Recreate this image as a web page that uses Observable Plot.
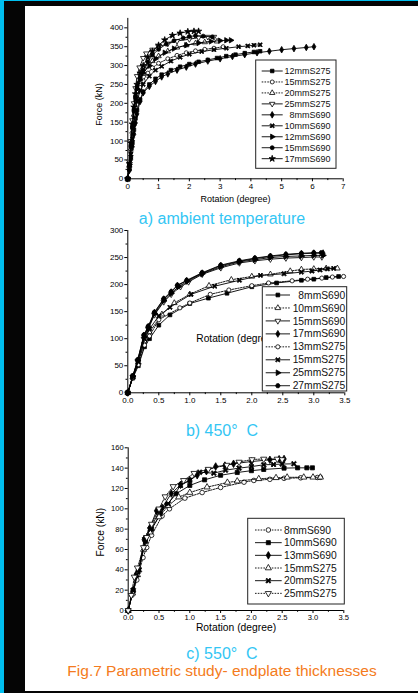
<!DOCTYPE html>
<html><head><meta charset="utf-8">
<script src="https://cdn.jsdelivr.net/npm/d3@7"></script>
<script src="https://cdn.jsdelivr.net/npm/@observablehq/plot@0.6"></script>
<style>
html,body{margin:0;padding:0;background:#fff;}
#page{position:relative;width:418px;height:693px;overflow:hidden;background:#fff;font-family:"Liberation Sans",Arial,sans-serif;}
.bar{position:absolute;}
.chart{position:absolute;left:0;}
.title{position:absolute;left:22px;width:400px;text-align:center;line-height:1;white-space:pre;}
</style></head>
<body><div id="page">
<div class="bar" style="left:0;top:0;width:418px;height:1.3px;background:#00bfef"></div>
<div class="bar" style="left:4px;top:1.3px;width:414px;height:4.7px;background:#050505"></div>
<div class="bar" style="left:0;top:0;width:4px;height:693px;background:#00bfef"></div>
<div class="bar" style="left:4px;top:1.3px;width:21px;height:692px;background:#050505"></div>
<div class="bar" style="left:4px;top:691px;width:414px;height:2px;background:#050505"></div>
<div id="ca" class="chart" style="top:0"></div>
<div id="cb" class="chart" style="top:220px"></div>
<div id="cc" class="chart" style="top:440px"></div>
<div class="title" style="top:211px;font-size:16px;color:#33c6f4">a) ambient temperature</div>
<div class="title" style="top:423px;font-size:16px;color:#33c6f4">b) 450°  C</div>
<div class="title" style="top:645.5px;font-size:16px;color:#33c6f4">c) 550°  C</div>
<div class="title" style="top:662.5px;font-size:15.5px;color:#f47b20">Fig.7 Parametric study- endplate thicknesses</div>
</div>
<script>
// ---------- DATA: [rotation (degree), force (kN)] ----------
// a) ambient temperature
const seriesA = ["12mmS275","15mmS275","20mmS275","25mmS275","8mmS690","10mmS690","12mmS690","15mmS690","17mmS690"];
const a_12mmS275 = [[0,0],[0.05,25],[0.1,58],[0.15,95],[0.2,130],[0.25,160],[0.3,182],[0.4,210],[0.5,230],[0.7,250],[0.9,265],[1.1,276],[1.4,288],[1.7,297],[2.0,304],[2.3,310],[2.6,315],[2.9,320],[3.2,325],[3.5,329],[3.8,333],[4.1,336],[4.3,338]];
const a_15mmS275 = [[0,0],[0.05,30],[0.1,72],[0.15,115],[0.2,155],[0.25,190],[0.3,215],[0.4,242],[0.5,260],[0.65,280],[0.8,294],[1.0,306],[1.3,318],[1.6,327],[1.9,334],[2.2,339],[2.5,343],[2.8,346],[3.1,350]];
const a_20mmS275 = [[0,0],[0.05,35],[0.1,80],[0.15,125],[0.2,170],[0.25,205],[0.3,230],[0.4,258],[0.5,278],[0.65,298],[0.8,312],[1.0,325],[1.3,338],[1.6,348],[1.9,354],[2.2,359],[2.5,362],[2.9,364]];
const a_25mmS275 = [[0,0],[0.05,45],[0.1,100],[0.15,155],[0.2,200],[0.25,240],[0.3,272],[0.38,295],[0.5,320],[0.6,332],[0.8,342],[1.0,350],[1.3,358],[1.6,365],[2.0,370],[2.3,374],[2.6,376],[2.8,376]];
const a_8mmS690 = [[0,0],[0.05,22],[0.1,52],[0.15,85],[0.2,118],[0.25,148],[0.3,172],[0.4,205],[0.5,228],[0.7,245],[0.9,258],[1.1,270],[1.3,278],[1.6,288],[1.9,296],[2.2,304],[2.6,312],[3.0,318],[3.4,324],[3.8,329],[4.2,334],[4.6,338],[5.0,342],[5.4,345],[5.8,348],[6.05,350]];
const a_10mmS690 = [[0,0],[0.05,28],[0.1,65],[0.15,105],[0.2,145],[0.25,180],[0.3,205],[0.4,233],[0.5,250],[0.7,272],[0.9,288],[1.1,298],[1.4,312],[1.7,322],[2.0,330],[2.4,337],[2.8,342],[3.2,346],[3.6,350],[3.9,352],[4.1,354],[4.3,355]];
const a_12mmS690 = [[0,0],[0.05,38],[0.1,88],[0.15,138],[0.2,182],[0.25,215],[0.3,238],[0.4,262],[0.5,280],[0.7,300],[0.9,318],[1.2,334],[1.5,345],[1.9,354],[2.3,360],[2.7,364],[3.0,366],[3.2,367],[3.35,367]];
const a_15mmS690 = [[0,0],[0.05,35],[0.1,85],[0.15,135],[0.2,180],[0.25,215],[0.3,240],[0.4,268],[0.5,288],[0.65,310],[0.8,328],[1.0,343],[1.25,357],[1.5,366],[1.8,373],[2.0,377],[2.2,379],[2.45,378],[2.75,376]];
const a_17mmS690 = [[0,0],[0.05,40],[0.1,95],[0.15,145],[0.2,190],[0.25,225],[0.3,250],[0.4,280],[0.5,300],[0.65,322],[0.8,338],[1.0,354],[1.2,368],[1.45,380],[1.7,386],[1.95,390],[2.15,391],[2.3,391]];

// b) 450 C
const seriesB = ["8mmS690","10mmS690","15mmS690","17mmS690","13mmS275","15mmS275","25mmS275","27mmS275"];
const b_8mmS690 = [[0,0],[0.08,27],[0.17,50],[0.27,85],[0.35,100],[0.5,125],[0.68,144],[1.0,165],[1.3,175],[1.6,184],[2.0,196],[2.4,203],[2.8,208],[3.0,210],[3.2,213],[3.4,215]];
const b_10mmS690 = [[0,0],[0.08,29],[0.17,56],[0.27,95],[0.35,112],[0.55,145],[0.75,166],[1.0,182],[1.31,198],[1.67,209],[2.0,215],[2.3,219],[2.62,225],[2.8,228],[3.0,229],[3.2,230],[3.38,230]];
const b_15mmS690 = [[0,0],[0.08,29],[0.16,58],[0.26,100],[0.33,118],[0.43,144],[0.58,168],[0.7,182],[0.85,196],[0.98,205],[1.2,219],[1.5,231],[1.8,240],[2.05,244],[2.3,247],[2.55,249],[2.8,250],[3.0,251],[3.13,251]];
const b_17mmS690 = [[0,0],[0.08,30],[0.16,60],[0.26,106],[0.33,122],[0.43,148],[0.58,173],[0.7,186],[0.8,198],[0.95,207],[1.2,221],[1.5,235],[1.8,243],[2.05,248],[2.3,252],[2.55,255],[2.8,257],[3.0,258],[3.15,258]];
const b_13mmS275 = [[0,0],[0.08,28],[0.17,52],[0.27,88],[0.35,105],[0.5,135],[0.84,157],[1.0,166],[1.33,182],[1.63,190],[2.0,198],[2.27,203],[2.65,207],[2.9,210],[3.13,212],[3.3,214],[3.48,215]];
const b_15mmS275 = [[0,0],[0.08,30],[0.17,57],[0.27,100],[0.35,118],[0.5,142],[0.68,158],[1.02,182],[1.4,197],[1.8,208],[2.14,217],[2.52,220],[2.8,223],[2.97,225],[3.1,227],[3.22,229],[3.32,230]];
const b_25mmS275 = [[0,0],[0.08,30],[0.16,59],[0.26,104],[0.33,120],[0.43,146],[0.58,170],[0.7,184],[0.82,196],[0.96,206],[1.2,220],[1.5,233],[1.8,242],[2.05,246],[2.3,250],[2.55,252],[2.8,253],[3.0,254],[3.15,254]];
const b_27mmS275 = [[0,0],[0.08,31],[0.16,61],[0.26,107],[0.33,123],[0.43,149],[0.58,174],[0.7,187],[0.8,199],[0.95,208],[1.2,222],[1.5,236],[1.8,244],[2.05,249],[2.3,253],[2.55,256],[2.8,258],[3.0,259],[3.12,259]];

// c) 550 C
const seriesC = ["8mmS690","10mmS690","13mmS690","15mmS275","20mmS275","25mmS275"];
const c_8mmS690 = [[0,0],[0.06,15],[0.14,30],[0.24,52],[0.3,62],[0.38,74],[0.55,93],[0.67,100],[0.92,110.5],[1.2,116],[1.5,121],[1.88,126.2],[2.04,127.9],[2.3,129],[2.53,130],[2.8,130.5],[3.07,130.8],[3.12,131]];
const c_10mmS690 = [[0,0],[0.08,19],[0.16,38],[0.28,68],[0.38,80],[0.52,95],[0.63,104],[0.78,114.8],[1.0,123],[1.24,128.5],[1.5,133],[1.77,135.7],[2.0,137.5],[2.2,138.7],[2.53,140],[2.75,140.3],[2.9,140.3],[2.99,140.3]];
const c_13mmS690 = [[0,0],[0.08,20],[0.13,35],[0.17,40],[0.26,70],[0.35,81],[0.46,98],[0.55,101],[0.7,115],[0.85,123.6],[1.0,128],[1.12,133],[1.27,137],[1.42,141.6],[1.57,142.5],[1.71,144.3],[2.0,146.5],[2.3,148.2],[2.45,148.8],[2.53,149]];
const c_15mmS275 = [[0,0],[0.07,17],[0.15,35],[0.25,60],[0.35,77],[0.5,92],[0.65,103],[0.82,111.5],[1.0,116],[1.28,121.3],[1.61,125.9],[1.77,127.2],[2.12,129.5],[2.4,130.5],[2.58,131],[2.85,131],[3.0,131],[3.12,131]];
const c_20mmS275 = [[0,0],[0.08,20],[0.14,35],[0.18,40],[0.27,70],[0.36,80],[0.51,98.4],[0.65,105],[0.85,123],[1.0,128],[1.16,136],[1.39,135],[1.58,138],[1.8,140],[2.0,141.5],[2.2,143.3],[2.36,143.6],[2.5,144],[2.69,144.3]];
const c_25mmS275 = [[0,0],[0.05,15],[0.1,33],[0.15,42],[0.25,62],[0.3,72],[0.38,85],[0.5,100],[0.6,112],[0.73,122],[0.9,128],[1.07,135],[1.3,139],[1.6,143],[1.8,146],[2.01,148.5],[2.2,149],[2.42,149],[2.5,148.5]];

// tick values
const aXTicks = [0,1,2,3,4,5,6,7], aXMinor = [0.5,1.5,2.5,3.5,4.5,5.5,6.5];
const aYTicks = [0,50,100,150,200,250,300,350,400], aYMinor = [25,75,125,175,225,275,325,375];
const bXTicks = [0,0.5,1,1.5,2,2.5,3,3.5], bXMinor = [0.25,0.75,1.25,1.75,2.25,2.75,3.25];
const bYTicks = [0,50,100,150,200,250,300], bYMinor = [25,75,125,175,225,275];
const cXTicks = bXTicks, cXMinor = bXMinor;
const cYTicks = [0,20,40,60,80,100,120,140,160], cYMinor = [10,30,50,70,90,110,130,150];

// ---------- symbols ----------
const R3 = Math.sqrt(3);
const triDown = {draw(ctx, size){const r=Math.sqrt(4*size/(3*R3)); ctx.moveTo(0,r); ctx.lineTo(r*R3/2,-r/2); ctx.lineTo(-r*R3/2,-r/2); ctx.closePath();}};
const triUp = {draw(ctx, size){const r=Math.sqrt(4*size/(3*R3)); ctx.moveTo(0,-r); ctx.lineTo(r*R3/2,r/2); ctx.lineTo(-r*R3/2,r/2); ctx.closePath();}};
const triRight = {draw(ctx, size){const r=Math.sqrt(4*size/(3*R3)); ctx.moveTo(r,0); ctx.lineTo(-r/2,r*R3/2); ctx.lineTo(-r/2,-r*R3/2); ctx.closePath();}};
const hexa = {draw(ctx, size){const r=Math.sqrt(2*size/(3*R3)); for(let i=0;i<6;i++){const t=Math.PI/3*i; const x=r*Math.cos(t), y=r*Math.sin(t); i?ctx.lineTo(x,y):ctx.moveTo(x,y);} ctx.closePath();}};
const bowX = {draw(ctx, size){const s=Math.sqrt(size)*0.62, w=s*0.38; // bold X
  ctx.moveTo(-s,-s+w); ctx.lineTo(-s+w,-s); ctx.lineTo(0,-w); ctx.lineTo(s-w,-s); ctx.lineTo(s,-s+w); ctx.lineTo(w,0);
  ctx.lineTo(s,s-w); ctx.lineTo(s-w,s); ctx.lineTo(0,w); ctx.lineTo(-s+w,s); ctx.lineTo(-s,s-w); ctx.lineTo(-w,0); ctx.closePath();}};
const SQ = d3.symbolSquare, CI = d3.symbolCircle, DI = d3.symbolDiamond, ST = d3.symbolStar;

// styles per series: [symbol, filled, dashed]
const stylesA = [[SQ,1,0],[CI,0,1],[triUp,0,1],[triDown,0,0],[DI,1,0],[bowX,1,0],[triRight,1,0],[CI,1,0],[ST,1,0]];
const stylesB = [[SQ,1,0],[triUp,0,1],[triDown,0,0],[DI,1,0],[CI,0,1],[bowX,1,0],[triRight,1,0],[hexa,1,0]];
const stylesC = [[CI,0,1],[SQ,1,0],[DI,1,0],[triUp,0,1],[bowX,1,0],[triDown,0,1]];

const FONT = '"Liberation Sans", Arial, sans-serif';
const DASH = "1.6,1.2";

function makeChart(o){
  const marks = [];
  marks.push(Plot.ruleX([0], {stroke:"#000", strokeWidth:1}));
  marks.push(Plot.ruleY([0], {stroke:"#000", strokeWidth:1}));
  marks.push(Plot.axisX({ticks:o.xTicks, tickSize:3, tickPadding:1.5, tickFormat:o.fmtX, fontSize:o.tickFont, stroke:"#000", fill:"#000"}));
  marks.push(Plot.axisX({ticks:o.xMinor, tickSize:1.8, tickFormat:()=>"", stroke:"#000"}));
  marks.push(Plot.axisY({ticks:o.yTicks, tickSize:3, tickPadding:1.5, tickFormat:d3.format("d"), fontSize:o.tickFont, stroke:"#000", fill:"#000"}));
  marks.push(Plot.axisY({ticks:o.yMinor, tickSize:1.8, tickFormat:()=>"", stroke:"#000"}));
  o.data.forEach((d,i)=>{
    const [sym, filled, dashed] = o.styles[i];
    marks.push(Plot.line(d, {x:p=>p[0], y:p=>p[1], stroke:"#000", strokeWidth:0.9, strokeDasharray: dashed?DASH:null}));
    marks.push(Plot.dot(d, {x:p=>p[0], y:p=>p[1], symbol:sym, r:o.r, fill: sym===bowX||filled ? "#000" : "#fff", stroke:"#000", strokeWidth:0.8}));
  });
  if (o.xLabel) marks.push(Plot.text([o.xLabel], {text:t=>t, frameAnchor:"bottom", textAnchor:o.xLabelAnchor||"middle", dx:o.xLabelDx||0, dy:o.xLabelDy, fontSize:o.labelFont, fill:"#000"}));
  if (o.yLabel) marks.push(Plot.text([o.yLabel], {text:t=>t, frameAnchor:"left", textAnchor:"middle", lineAnchor:"middle", rotate:-90, dx:o.yLabelDx, dy:o.yLabelDy, fontSize:o.labelFont, fill:"#000"}));
  const svg = Plot.plot({
    width:418, height:o.height,
    marginLeft:o.m[0], marginRight:o.m[1], marginTop:o.m[2], marginBottom:o.m[3],
    x:{domain:o.xDomain}, y:{domain:o.yDomain},
    style:{fontFamily:FONT, fontSize:"8px", color:"#000", background:"none", overflow:"visible"},
    marks
  });
  // legend
  const L = o.legend;
  const g = d3.select(svg).append("g");
  g.append("rect").attr("x",L.x).attr("y",L.y).attr("width",L.w).attr("height",L.h).attr("fill","#fff").attr("stroke","#222").attr("stroke-width",1);
  o.names.forEach((name,i)=>{
    const [sym, filled, dashed] = o.styles[i];
    const cy = L.row0 + i*L.dy;
    g.append("line").attr("x1",L.lx0).attr("x2",L.lx1).attr("y1",cy).attr("y2",cy).attr("stroke","#000").attr("stroke-width",0.9).attr("stroke-dasharray", dashed?DASH:null);
    g.append("path").attr("transform",`translate(${(L.lx0+L.lx1)/2},${cy})`).attr("d", d3.symbol().type(sym).size(Math.PI*o.r*o.r)())
      .attr("fill", sym===bowX||filled ? "#000" : "#fff").attr("stroke","#000").attr("stroke-width",0.8);
    g.append("text").attr("x",L.tx).attr("y",cy).attr("dy","0.35em").attr("text-anchor",L.anchor).attr("font-size",L.font).attr("fill","#111").text(name);
  });
  return svg;
}

const fmt1 = d3.format(".1f");

document.getElementById("ca").appendChild(makeChart({
  height:210, m:[127.3,75.3,17.9,31.7], xDomain:[0,7], yDomain:[0,425],
  xTicks:aXTicks, xMinor:aXMinor, yTicks:aYTicks, yMinor:aYMinor, fmtX:d3.format("d"), tickFont:8,
  data:[a_12mmS275,a_15mmS275,a_20mmS275,a_25mmS275,a_8mmS690,a_10mmS690,a_12mmS690,a_15mmS690,a_17mmS690],
  names:seriesA, styles:stylesA, r:2.0,
  xLabel:"Rotation (degree)", xLabelDy:22.7, yLabel:"Force (kN)", yLabelDx:-28.3, yLabelDy:6, labelFont:9,
  legend:{x:255.7, y:60, w:80.3, h:108.3, row0:71, dy:10.96, lx0:261.7, lx1:282.7, tx:330.5, anchor:"end", font:9}
}));

document.getElementById("cb").appendChild(makeChart({
  height:190, m:[127.3,73.7,10,17.7], xDomain:[0,3.5], yDomain:[0,300],
  xTicks:bXTicks, xMinor:bXMinor, yTicks:bYTicks, yMinor:bYMinor, fmtX:fmt1, tickFont:8,
  data:[b_8mmS690,b_10mmS690,b_15mmS690,b_17mmS690,b_13mmS275,b_15mmS275,b_25mmS275,b_27mmS275],
  names:seriesB, styles:stylesB, r:2.1,
  xLabel:"Rotation (degree)", xLabelAnchor:"start", xLabelDx:-40, xLabelDy:-51.3, labelFont:10.2,
  legend:{x:262.3, y:66.7, w:84.4, h:104.3, row0:75, dy:12.96, lx0:265.7, lx1:290, tx:345.3, anchor:"end", font:10.3}
}));

document.getElementById("cc").appendChild(makeChart({
  height:200, m:[127.7,74.7,7.3,30], xDomain:[0,3.5], yDomain:[0,160],
  xTicks:cXTicks, xMinor:cXMinor, yTicks:cYTicks, yMinor:cYMinor, fmtX:fmt1, tickFont:7.6,
  data:[c_8mmS690,c_10mmS690,c_13mmS690,c_15mmS275,c_20mmS275,c_25mmS275],
  names:seriesC, styles:stylesC, r:2.3,
  xLabel:"Rotation (degree)", xLabelDy:20.7, yLabel:"Force (kN)", yLabelDx:-27.7, yLabelDy:3, labelFont:10.3,
  legend:{x:247.7, y:78.3, w:96.6, h:85.7, row0:90, dy:12.67, lx0:255, lx1:281.7, tx:284, anchor:"start", font:10.3}
}));
</script>
</body></html>
